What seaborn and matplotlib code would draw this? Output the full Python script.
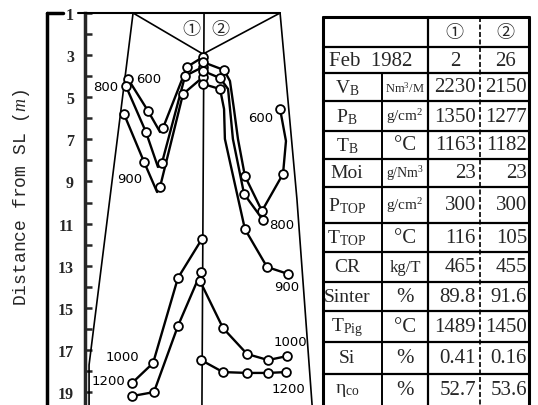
import pandas as pd
import seaborn as sns
import matplotlib.pyplot as plt

# isotherms: x = radial position from furnace centre (m), side 1 negative, side 2 positive
#            y = distance from stock line (m)
# every vertex read off the curve; the *_pts lists say which vertices carry a measured point
# side 1 (Feb 2, 1982)
s1_600_x = [-3.56, -2.61, -2.04, -1.90, -0.76, 0.0]
s1_600_y = [4.13, 5.65, 6.65, 6.46, 3.56, 3.09]
s1_600_pts = [0, 1, 3, 4, 5]
s1_800_x = [-3.66, -2.71, -2.14, -1.95, -0.85, 0.0]
s1_800_y = [4.47, 6.65, 8.31, 8.12, 3.99, 3.56]
s1_800_pts = [0, 1, 3, 4, 5]
s1_900_x = [-3.75, -2.80, -2.18, -2.04, -0.95, 0.0]
s1_900_y = [5.80, 8.07, 9.50, 9.26, 4.85, 4.04]
s1_900_pts = [0, 1, 3, 4, 5]
s1_1000_x = [-0.05, -1.19, -2.37, -3.37]
s1_1000_y = [11.73, 13.58, 17.62, 18.57]
s1_1000_pts = [0, 1, 2, 3]
s1_1200_x = [-0.09, -1.19, -2.33, -3.37]
s1_1200_y = [13.30, 15.86, 19.00, 19.19]
s1_1200_pts = [0, 1, 2, 3]

# side 2 (Feb 26, 1982)
s2_600_x = [0.0, 1.00, 1.28, 1.47, 1.66, 1.99, 2.80, 3.80, 3.94, 3.66]
s2_600_y = [3.33, 3.71, 4.23, 5.56, 6.98, 8.74, 10.40, 8.64, 7.08, 5.56]
s2_600_pts = [0, 1, 5, 6, 7, 9]
s2_800_x = [0.0, 0.81, 1.19, 1.33, 1.42, 1.95, 2.85]
s2_800_y = [3.75, 4.09, 4.61, 6.03, 6.98, 9.59, 10.83]
s2_800_pts = [0, 1, 5, 6]
s2_900_x = [0.0, 0.81, 1.00, 1.04, 1.28, 1.99, 3.04, 4.04]
s2_900_y = [4.37, 4.61, 5.56, 6.98, 8.07, 11.26, 13.06, 13.39]
s2_900_pts = [0, 1, 5, 6, 7]
s2_1000_x = [-0.14, 0.95, 2.09, 3.09, 3.99]
s2_1000_y = [13.73, 15.96, 17.19, 17.48, 17.29]
s2_1000_pts = [0, 1, 2, 3, 4]
s2_1200_x = [-0.09, 0.95, 2.09, 3.09, 3.94]
s2_1200_y = [17.48, 18.05, 18.09, 18.09, 18.05]
s2_1200_pts = [0, 1, 2, 3, 4]

# furnace profile
wall_left_x = [-3.32, -5.41, -5.41]
wall_left_y = [1.0, 17.71, 19.61]
wall_right_x = [3.66, 4.46, 5.18]
wall_right_y = [1.0, 9.83, 19.61]
centre_x = [0.05, -0.05]
centre_y = [1.0, 19.61]
cone_x = [-3.32, 0.0, 3.66]
cone_y = [1.0, 2.95, 1.0]

depth_ticks = [1, 3, 5, 7, 9, 11, 13, 15, 17, 19]
depth_minor = [2, 4, 6, 8, 10, 12, 14, 16, 18]

# table
row_names = ['V$_\\mathrm{B}$', 'P$_\\mathrm{B}$', 'T$_\\mathrm{B}$', 'Moi', 'P$_\\mathrm{TOP}$',
             'T$_\\mathrm{TOP}$', 'CR', 'Sinter', 'T$_\\mathrm{Pig}$', 'Si', '\u03b7$_\\mathrm{co}$']
row_units = ['Nm$^3$/M', 'g/cm$^2$', '\u00b0C', 'g/Nm$^3$', 'g/cm$^2$', '\u00b0C', 'kg/T',
             '%', '\u00b0C', '%', '%']
run1_vals = ['2230', '1350', '1163', '23', '300', '116', '465', '89.8', '1489', '0.41', '52.7']
run2_vals = ['2150', '1277', '1182', '23', '300', '105', '455', '91.6', '1450', '0.16', '53.6']
run_days = ['2', '26']

segments = [
    ('s1_600', s1_600_x, s1_600_y, s1_600_pts), ('s1_800', s1_800_x, s1_800_y, s1_800_pts),
    ('s1_900', s1_900_x, s1_900_y, s1_900_pts), ('s1_1000', s1_1000_x, s1_1000_y, s1_1000_pts),
    ('s1_1200', s1_1200_x, s1_1200_y, s1_1200_pts),
    ('s2_600', s2_600_x, s2_600_y, s2_600_pts), ('s2_800', s2_800_x, s2_800_y, s2_800_pts),
    ('s2_900', s2_900_x, s2_900_y, s2_900_pts), ('s2_1000', s2_1000_x, s2_1000_y, s2_1000_pts),
    ('s2_1200', s2_1200_x, s2_1200_y, s2_1200_pts),
]
frames = []
for name, xs, ys, pts in segments:
    frames.append(pd.DataFrame({'x': xs, 'y': ys, 'seg': name,
                                'marked': [i in pts for i in range(len(xs))]}))
df = pd.concat(frames, ignore_index=True)

# label placement (data coords)
iso_labels = [('600', -2.56, 4.09), ('800', -4.61, 4.51), ('900', -3.47, 8.88),
              ('600', 2.75, 5.94), ('800', 3.75, 11.02), ('900', 3.99, 14.01),
              ('1000', 4.13, 16.62), ('1200', 4.08, 18.81),
              ('1000', -3.85, 17.29), ('1200', -4.51, 18.47)]

sns.set_style('white')
plt.rcParams['font.family'] = ['DejaVu Sans', 'Noto Sans CJK JP']
plt.rcParams['mathtext.fontset'] = 'custom'
plt.rcParams['mathtext.rm'] = 'Liberation Serif'
plt.rcParams['mathtext.it'] = 'Liberation Serif:italic'
plt.rcParams['mathtext.bf'] = 'Liberation Serif:bold'

W, H = 538, 406
fig = plt.figure(figsize=(W / 100, H / 100), dpi=100)
ax = fig.add_axes([85 / W, 0, 235 / W, 392 / H])

for xs, ys in [(wall_left_x, wall_left_y), (wall_right_x, wall_right_y),
               (centre_x, centre_y), (cone_x, cone_y)]:
    ax.plot(xs, ys, color='black', lw=1.2, clip_on=False)

sns.lineplot(data=df, x='x', y='y', units='seg', estimator=None, sort=False,
             color='black', lw=1.7, legend=False, ax=ax)
sns.scatterplot(data=df[df['marked']], x='x', y='y', s=40, color='white',
                edgecolor='black', linewidth=1.3, legend=False, ax=ax, zorder=3)

for txt, lx, ly in iso_labels:
    ax.text(lx, ly, txt, ha='center', va='center', fontsize=9.5, color='black')

ax.set_xlim(-5.603, 5.556)
ax.set_ylim(19.613, 1.0)
ax.set_xlabel('')
ax.set_ylabel('')
ax.set_xticks([])
ax.set_yticks(depth_ticks)
ax.set_yticks(depth_minor, minor=True)
ax.set_yticklabels([str(t) for t in depth_ticks], family='Liberation Serif',
                   fontweight='bold', fontsize=11.5)
ax.tick_params(axis='y', which='both', direction='in', length=5, width=1.8, pad=8, left=True)
for side in ['top', 'right', 'bottom']:
    ax.spines[side].set_visible(False)
ax.spines['left'].set_linewidth(2.5)
ax.patch.set_alpha(0)

# overlay in pixel coordinates for frame decorations and the table
fr = fig.add_axes([0, 0, 1, 1])
fr.set_xlim(0, W)
fr.set_ylim(H, 0)
fr.axis('off')

fr.plot([47, 47], [14, H], color='black', lw=2.5)
fr.plot([47, 63], [14, 14], color='black', lw=2.5)
fr.plot([78, 280], [14, 14], color='black', lw=1.5)
fr.text(191, 30, '\u2460', ha='center', va='center', fontsize=13, family=['Noto Sans CJK JP'])
fr.text(220, 30, '\u2461', ha='center', va='center', fontsize=13, family=['Noto Sans CJK JP'])

fig.text(22 / W, 1 - 197 / H, 'Distance from SL ($\\mathit{m}$)', rotation=90,
         ha='center', va='center', fontsize=13, family='Liberation Mono')

row_edges = [18, 48, 74, 102, 132, 160, 188, 224, 253, 283, 312, 343, 375, 406]

fr.plot([323, 323], [18, H], color='black', lw=2.2)
fr.plot([529, 529], [18, H], color='black', lw=2.2)
fr.plot([323, 529], [18, 18], color='black', lw=2.2)
for ry in row_edges[1:-1]:
    fr.plot([323, 529], [ry, ry], color='black', lw=1.6)
fr.plot([382, 382], [74, H], color='black', lw=1.4)
fr.plot([428, 428], [18, H], color='black', lw=1.6)
fr.plot([480, 480], [18, H], color='black', lw=1.2, ls=(0, (3, 1.5)))

serif = 'Liberation Serif'
fr.text(454, 33, '\u2460', ha='center', va='center', fontsize=13, family=['Noto Sans CJK JP'])
fr.text(505, 33, '\u2461', ha='center', va='center', fontsize=13, family=['Noto Sans CJK JP'])
fr.text(329, 61, 'Feb  1982', ha='left', va='center', fontsize=15, family=serif)
fr.text(455, 61, run_days[0], ha='center', va='center', fontsize=15, family=serif)
fr.text(506, 61, run_days[1], ha='center', va='center', fontsize=15, family=serif)

unit_sizes = [9, 11, 15, 10, 11, 15, 12, 15, 15, 15, 15]
for i in range(len(row_names)):
    cy = (row_edges[i + 2] + row_edges[i + 3]) / 2
    fr.text(347, cy, row_names[i], ha='center', va='center', fontsize=14, family=serif)
    fr.text(405, cy, row_units[i], ha='center', va='center', fontsize=unit_sizes[i], family=serif)
    fr.text(476, cy, run1_vals[i], ha='right', va='center', fontsize=15, family=serif)
    fr.text(527, cy, run2_vals[i], ha='right', va='center', fontsize=15, family=serif)

fig.savefig('out.png', dpi=100)
